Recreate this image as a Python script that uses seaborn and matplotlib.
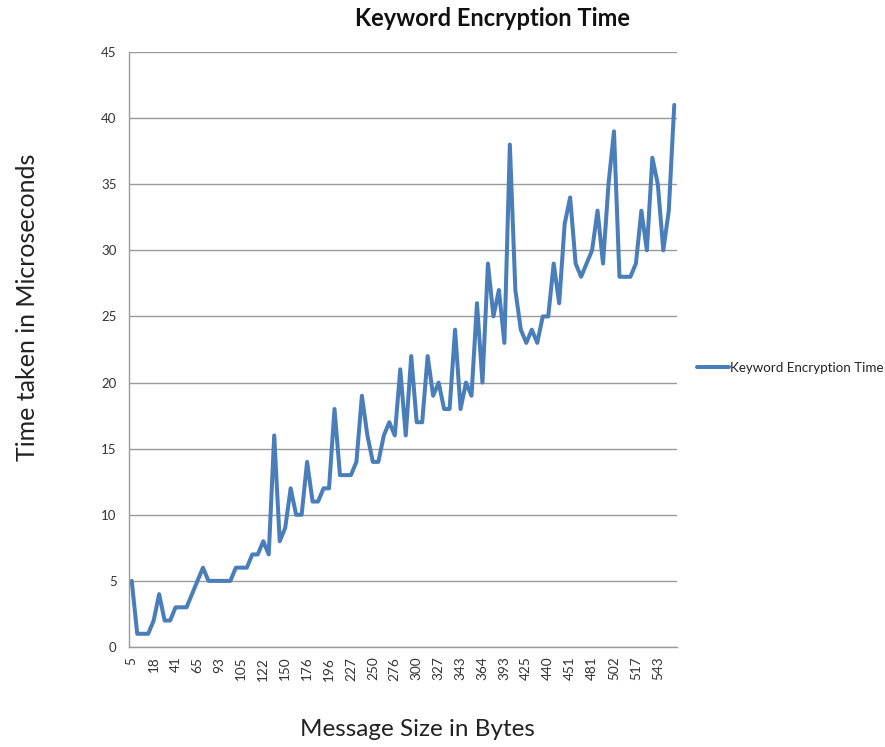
import numpy as np
import pandas as pd
import matplotlib
matplotlib.use("Agg")
import matplotlib.pyplot as plt
import seaborn as sns
from matplotlib.ticker import FixedLocator

# ---- data ----
tick_labels = ["5", "18", "41", "65", "93", "105", "122", "150", "176", "196",
               "227", "250", "276", "300", "327", "343", "364", "393", "425",
               "440", "451", "481", "502", "517", "543"]
times = [5, 1, 1, 1, 2, 4, 2, 2, 3, 3,
         3, 4, 5, 6, 5, 5, 5, 5, 5, 6,
         6, 6, 7, 7, 8, 7, 16, 8, 9, 12,
         10, 10, 14, 11, 11, 12, 12, 18, 13, 13,
         13, 14, 19, 16, 14, 14, 16, 17, 16, 21,
         16, 22, 17, 17, 22, 19, 20, 18, 18, 24,
         18, 20, 19, 26, 20, 29, 25, 27, 23, 38,
         27, 24, 23, 24, 23, 25, 25, 29, 26, 32,
         34, 29, 28, 29, 30, 33, 29, 35, 39, 28,
         28, 28, 29, 33, 30, 37, 35, 30, 33, 41]
series_name = "Keyword Encryption Time"
label_step = 4

df = pd.DataFrame({"idx": np.arange(len(times)), "time": times})

sns.set_style("white")
plt.rcParams["font.family"] = ["Lato", "DejaVu Sans"]

fig = plt.figure(figsize=(8.85, 7.47), dpi=100)
ax = fig.add_axes([129/885, 1-647/747, (677-129)/885, (647-52)/747])

sns.lineplot(data=df, x="idx", y="time", ax=ax, color="#4A7EBB",
             linewidth=2.9, label=series_name, legend=False)

ax.set_xlim(-0.5, len(times) - 0.5)
ax.set_ylim(0, 45)
ax.set_yticks(np.arange(0, 46, 5))
ax.yaxis.grid(True, color="#9a9a9a", linewidth=1.0)
ax.xaxis.grid(False)
ax.set_axisbelow(True)

for s in ["top", "right"]:
    ax.spines[s].set_visible(False)
for s in ["left", "bottom"]:
    ax.spines[s].set_color("#9a9a9a")
    ax.spines[s].set_linewidth(1.0)

# labelled categories
ax.set_xticks(np.arange(0, len(times), label_step)[:len(tick_labels)])
ax.set_xticklabels(tick_labels, rotation=90, fontsize=9.8, color="#333333")
ax.tick_params(axis="x", which="major", length=0, pad=7)
# tick marks at category boundaries
ax.xaxis.set_minor_locator(FixedLocator(np.arange(-0.5, len(times), 1.0)))
ax.tick_params(axis="x", which="minor", length=4, color="#9a9a9a", width=1, direction="out")

ax.tick_params(axis="y", length=5, color="#9a9a9a", width=1, labelsize=9.5,
               labelcolor="#333333", pad=4)

ax.set_xlabel("")
ax.set_ylabel("")

fig.text(493/885, 1-18/747, "Keyword Encryption Time", ha="center", va="center",
         fontsize=17, fontweight="bold", color="#111111")
fig.text(28/885, 1-307/747, "Time taken in Microseconds", ha="center", va="center",
         rotation=90, fontsize=18, color="#222222")
fig.text(417/885, 1-730/747, "Message Size in Bytes", ha="center", va="center",
         fontsize=17.5, color="#222222")

leg = ax.legend(loc="center left", bbox_to_anchor=(697/885, 1-368/747),
                bbox_transform=fig.transFigure, frameon=False, fontsize=9.6,
                handlelength=2.4, handletextpad=0.1, borderaxespad=0, borderpad=0)
for t in leg.get_texts():
    t.set_color("#222222")

fig.savefig("out.png", dpi=100)
